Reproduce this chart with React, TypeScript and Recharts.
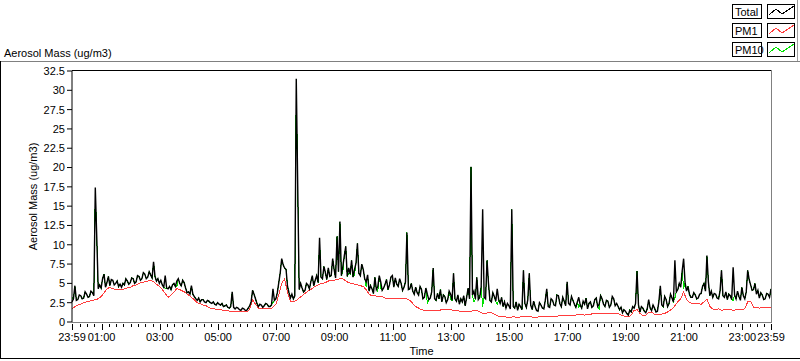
import React from "react";
import { LineChart, Line, XAxis, YAxis, Legend } from "recharts";

const FONT = '"Liberation Sans", Arial, sans-serif';

// Total / PM10 every 3 minutes, PM1 every 6 minutes, starting 23:59
const STEP_MIN = 3;
const PM1_STEP_MIN = 6;

// one row = one hour (20 samples)
const totalMass = [
  2.6, 3.0, 4.7, 2.8, 2.9, 3.5, 3.4, 3.0, 3.1, 3.9, 3.6, 3.2, 3.3, 4.0, 3.8, 3.4, 17.4, 11.0, 4.3, 4.8,
  4.4, 5.6, 6.2, 4.5, 5.1, 5.9, 4.7, 5.5, 5.4, 4.8, 5.0, 5.3, 4.6, 4.9, 4.5, 5.0, 4.8, 5.6, 5.3, 4.9,
  5.1, 5.7, 5.6, 5.0, 5.2, 6.0, 5.9, 5.4, 5.6, 6.4, 6.2, 5.6, 5.8, 6.5, 6.1, 5.7, 7.8, 5.9, 5.3, 5.6,
  5.0, 5.4, 4.8, 4.5, 6.0, 4.4, 4.3, 4.6, 4.2, 4.8, 5.0, 4.6, 5.3, 5.6, 5.0, 4.7, 5.4, 5.1, 4.4, 3.8,
  3.9, 3.6, 4.7, 3.6, 3.3, 3.0, 2.8, 3.1, 2.6, 2.9, 2.9, 2.6, 2.5, 2.8, 2.7, 2.5, 2.4, 2.6, 2.3, 2.2,
  2.5, 2.3, 2.2, 2.4, 2.0, 2.1, 2.2, 1.9, 1.8, 2.0, 3.9, 1.9, 1.7, 1.9, 1.8, 1.6, 1.5, 1.8, 1.7, 1.5,
  1.5, 1.8, 2.1, 2.6, 4.1, 3.6, 3.0, 2.4, 2.0, 2.3, 2.2, 1.9, 2.1, 2.4, 2.3, 2.0, 2.0, 2.2, 4.3, 2.8,
  3.0, 3.8, 5.1, 6.4, 8.2, 7.4, 7.0, 6.8, 4.6, 3.8, 3.1, 3.6, 3.0, 3.4, 31.5, 17.6, 4.2, 5.0, 4.4, 3.9,
  4.1, 5.0, 4.8, 4.3, 5.2, 6.0, 4.7, 5.4, 6.0, 5.1, 10.9, 5.8, 5.6, 7.2, 6.4, 5.5, 7.0, 5.9, 6.0, 8.2,
  6.8, 5.7, 11.1, 6.5, 13.0, 6.0, 7.2, 8.6, 9.8, 5.9, 7.0, 6.2, 8.0, 5.8, 6.8, 7.6, 10.2, 6.3, 6.0, 7.5,
  6.8, 5.6, 5.2, 6.1, 4.0, 4.7, 4.3, 3.7, 5.8, 4.2, 4.6, 6.0, 5.2, 4.1, 4.4, 4.9, 5.5, 4.2, 4.8, 5.8,
  6.0, 4.5, 5.7, 4.9, 4.6, 5.6, 5.0, 4.1, 4.5, 5.2, 11.6, 4.2, 4.3, 5.0, 4.0, 3.6, 4.5, 3.8, 3.5, 4.6,
  4.2, 3.0, 3.2, 4.4, 3.6, 2.9, 3.1, 3.9, 7.0, 3.0, 2.8, 3.7, 3.0, 4.2, 2.6, 3.5, 3.3, 2.5, 2.9, 4.0,
  3.6, 2.8, 6.3, 3.0, 2.7, 3.5, 2.3, 3.0, 2.6, 3.4, 2.1, 3.2, 4.4, 3.0, 20.1, 3.5, 4.0, 3.0, 5.8, 2.9,
  3.2, 4.6, 14.6, 3.2, 3.0, 8.0, 5.0, 2.8, 2.6, 3.8, 3.3, 2.7, 4.3, 2.9, 2.4, 3.2, 2.0, 2.6, 1.8, 2.4,
  2.1, 1.7, 14.6, 2.0, 1.8, 2.6, 1.5, 2.3, 2.0, 1.6, 6.7, 2.4, 1.9, 2.9, 6.3, 2.2, 1.6, 2.7, 2.0, 1.5,
  1.4, 2.5, 2.2, 1.8, 1.7, 2.8, 4.3, 2.0, 1.9, 3.0, 2.8, 2.2, 2.1, 3.5, 3.4, 2.4, 2.0, 3.2, 2.7, 2.1,
  5.2, 2.4, 2.2, 3.3, 2.8, 2.3, 1.9, 2.6, 3.2, 2.2, 1.8, 2.7, 2.3, 3.1, 1.7, 2.4, 2.6, 1.9, 2.1, 2.9,
  3.1, 2.0, 2.3, 3.4, 3.0, 2.3, 2.0, 2.8, 2.7, 1.9, 2.2, 3.3, 3.0, 2.1, 2.4, 2.0, 1.6, 1.9, 1.2, 1.6,
  1.4, 1.1, 0.9, 1.5, 1.3, 2.0, 1.8, 2.4, 6.6, 2.2, 1.3, 2.0, 1.8, 1.4, 1.2, 1.7, 2.9, 1.8, 1.5, 2.2,
  1.8, 1.3, 1.4, 2.6, 4.7, 2.2, 2.0, 3.3, 2.9, 2.0, 2.4, 3.6, 3.1, 2.6, 8.0, 3.9, 4.2, 5.0, 4.5, 6.6,
  8.2, 5.1, 4.0, 4.6, 3.6, 3.2, 3.2, 3.8, 3.5, 3.0, 3.1, 3.6, 3.7, 4.6, 5.0, 4.0, 8.6, 5.2, 3.4, 4.0,
  3.2, 3.7, 3.6, 3.1, 3.0, 4.0, 6.7, 3.4, 3.2, 3.9, 2.9, 3.6, 3.4, 2.9, 7.1, 3.5, 3.0, 4.0, 3.3, 2.8,
  4.5, 3.4, 3.0, 3.9, 6.7, 5.5, 4.8, 4.1, 4.2, 5.0, 3.6, 4.1, 3.1, 3.8, 3.5, 2.9, 3.0, 3.7, 3.6, 3.2,
  4.3,
];

const pm10Mass = [
  3.2, 3.0, 4.7, 2.8, 2.9, 3.5, 3.4, 3.0, 3.1, 3.9, 3.6, 3.2, 3.3, 4.0, 3.8, 3.4, 17.4, 11.0, 4.3, 4.8,
  4.4, 5.6, 6.2, 4.5, 5.1, 5.9, 4.7, 5.5, 5.4, 4.8, 5.0, 5.3, 4.6, 4.9, 4.5, 5.0, 4.8, 5.6, 5.3, 4.9,
  5.1, 5.7, 5.6, 5.0, 5.2, 6.0, 5.9, 5.4, 5.6, 6.4, 6.2, 5.6, 5.8, 6.5, 6.1, 5.7, 7.8, 5.9, 5.3, 5.6,
  5.0, 5.4, 4.8, 4.5, 4.4, 4.4, 4.3, 4.6, 4.2, 4.8, 5.0, 4.6, 4.6, 5.6, 5.0, 4.7, 5.4, 5.1, 4.4, 3.8,
  3.9, 3.6, 4.7, 3.6, 3.3, 3.0, 2.8, 3.1, 2.6, 2.9, 2.9, 2.6, 2.5, 2.8, 2.7, 2.5, 2.4, 2.6, 2.3, 2.2,
  2.5, 2.3, 2.2, 2.4, 2.0, 2.1, 2.2, 1.9, 1.8, 2.0, 3.9, 1.9, 1.7, 1.9, 1.8, 1.6, 1.5, 1.8, 1.7, 1.5,
  1.5, 1.8, 2.1, 2.6, 4.1, 3.6, 3.0, 2.4, 2.0, 2.3, 2.2, 1.9, 2.1, 2.4, 2.3, 2.0, 2.0, 2.2, 2.5, 2.8,
  3.0, 3.8, 5.1, 6.4, 8.2, 7.4, 7.0, 6.8, 4.6, 3.8, 3.4, 3.6, 3.0, 3.4, 31.5, 17.6, 4.2, 5.0, 4.4, 3.9,
  4.1, 5.0, 4.8, 4.3, 5.2, 6.0, 4.7, 5.4, 6.0, 5.1, 10.9, 5.8, 5.6, 7.2, 6.4, 5.5, 7.0, 5.9, 6.0, 8.2,
  6.8, 5.7, 11.1, 6.5, 13.0, 6.0, 6.5, 8.6, 9.8, 5.9, 6.3, 6.2, 8.0, 5.8, 6.0, 7.6, 10.2, 6.3, 6.0, 7.5,
  6.8, 5.6, 4.6, 6.1, 4.0, 4.7, 4.3, 3.7, 5.8, 4.2, 4.0, 6.0, 4.4, 4.1, 4.4, 4.9, 5.5, 4.2, 4.8, 5.8,
  6.0, 4.5, 5.7, 4.9, 4.6, 5.6, 5.0, 4.1, 4.5, 5.2, 11.6, 4.2, 4.3, 5.0, 4.0, 3.6, 4.5, 3.8, 3.5, 4.6,
  4.2, 3.0, 3.2, 4.4, 2.4, 2.9, 3.1, 3.9, 7.0, 3.0, 2.8, 3.7, 3.0, 4.2, 2.6, 3.5, 3.3, 2.5, 2.9, 4.0,
  2.9, 2.8, 6.3, 3.0, 2.7, 3.5, 2.3, 3.0, 2.6, 3.4, 2.1, 3.2, 4.4, 3.0, 20.1, 3.5, 2.6, 3.0, 5.8, 2.9,
  3.2, 4.6, 2.0, 3.2, 3.0, 8.0, 5.0, 2.8, 2.6, 3.8, 3.3, 2.7, 2.3, 2.9, 2.4, 3.2, 2.0, 2.6, 1.8, 2.4,
  2.1, 1.7, 14.6, 2.0, 1.8, 2.6, 1.5, 2.3, 2.0, 1.6, 6.7, 2.4, 1.9, 2.9, 6.3, 2.2, 1.6, 2.7, 2.0, 1.5,
  1.4, 2.5, 2.2, 1.8, 1.7, 2.8, 4.3, 2.0, 1.9, 3.0, 2.8, 2.2, 2.1, 3.5, 3.4, 2.4, 2.0, 3.2, 2.7, 2.1,
  5.2, 2.4, 2.2, 3.3, 2.8, 2.3, 1.9, 2.6, 1.9, 2.2, 1.8, 2.7, 2.3, 3.1, 1.7, 2.4, 2.6, 1.9, 2.1, 2.9,
  3.1, 2.0, 1.7, 3.4, 3.0, 2.3, 2.0, 2.8, 2.7, 1.9, 2.2, 3.3, 3.0, 2.1, 2.4, 2.0, 1.6, 1.9, 1.2, 1.6,
  1.4, 1.1, 0.9, 1.5, 1.3, 2.0, 1.8, 2.4, 6.6, 2.2, 1.3, 2.0, 1.8, 1.4, 1.2, 1.7, 2.9, 1.8, 1.5, 2.2,
  1.8, 1.3, 1.4, 2.6, 4.7, 2.2, 2.0, 3.3, 2.9, 2.0, 2.4, 3.6, 3.1, 2.6, 3.1, 3.9, 4.2, 5.0, 4.5, 6.6,
  4.3, 5.1, 4.0, 4.6, 3.6, 3.2, 3.2, 3.8, 3.5, 3.0, 3.1, 3.6, 3.7, 4.6, 5.0, 4.0, 8.6, 5.2, 3.4, 4.0,
  3.2, 3.7, 3.6, 3.1, 3.0, 4.0, 6.7, 3.4, 3.2, 3.9, 2.9, 3.6, 3.4, 2.9, 2.8, 3.5, 3.0, 4.0, 3.3, 2.8,
  4.5, 3.4, 3.0, 3.9, 6.7, 5.5, 4.8, 4.1, 4.2, 5.0, 3.6, 4.1, 3.1, 3.8, 3.5, 2.9, 3.0, 3.7, 3.6, 3.2,
  4.3,
];

// one row = one hour (10 samples)
const pm1Mass = [
  1.7, 2.0, 2.2, 2.3, 2.5, 2.6, 2.7, 2.8, 2.9, 3.0,
  3.3, 3.8, 4.3, 4.5, 4.3, 4.2, 4.2, 4.2, 4.3, 4.4,
  4.5, 4.7, 4.8, 5.0, 5.1, 5.2, 5.3, 5.4, 5.2, 4.9,
  4.6, 4.2, 3.7, 3.2, 3.5, 3.9, 4.3, 4.2, 4.0, 3.8,
  3.5, 3.2, 2.9, 2.5, 2.4, 2.2, 2.1, 1.9, 1.7, 1.7,
  1.6, 1.6, 1.5, 1.5, 1.4, 1.4, 1.3, 1.3, 1.3, 1.3,
  1.3, 1.6, 2.9, 2.3, 1.8, 1.7, 1.7, 1.7, 1.7, 1.9,
  2.3, 3.5, 5.0, 5.6, 3.8, 2.7, 2.6, 2.8, 3.1, 3.4,
  3.7, 4.0, 4.2, 4.5, 4.7, 4.9, 5.0, 5.1, 5.3, 5.4,
  5.4, 5.5, 5.6, 5.6, 5.3, 5.1, 5.0, 4.9, 4.8, 4.7,
  4.6, 4.2, 3.6, 3.4, 3.4, 3.3, 3.3, 3.2, 3.0, 3.0,
  3.0, 3.0, 3.0, 3.0, 3.0, 3.0, 2.8, 2.4, 2.0, 1.8,
  1.6, 1.5, 1.5, 1.5, 1.5, 1.5, 1.5, 1.6, 1.6, 1.6,
  1.6, 1.5, 1.5, 1.4, 1.4, 1.3, 1.3, 1.4, 1.5, 1.5,
  1.3, 1.1, 1.1, 1.2, 1.2, 1.0, 0.8, 0.7, 0.65, 0.65,
  0.6, 0.65, 0.65, 0.6, 0.65, 0.65, 0.7, 0.65, 0.65, 0.6,
  0.65, 0.7, 0.7, 0.65, 0.7, 0.7, 0.7, 0.8, 0.85, 0.85,
  0.85, 0.9, 0.85, 0.9, 0.95, 0.95, 0.9, 0.95, 1.0, 1.1,
  1.1, 1.05, 1.1, 1.1, 1.15, 1.1, 1.15, 1.15, 1.0, 0.85,
  0.7, 0.65, 0.9, 1.5, 1.6, 1.1, 0.85, 0.9, 1.2, 1.3,
  1.0, 1.0, 1.0, 1.05, 1.2, 1.4, 1.7, 2.1, 2.6, 3.0,
  3.9, 2.9, 2.5, 2.4, 2.4, 2.4, 2.3, 2.6, 3.0, 2.0,
  1.7, 1.6, 1.7, 1.5, 1.6, 1.6, 1.6, 1.5, 1.6, 1.6,
  1.6, 1.7, 2.6, 2.7, 1.9, 1.85, 1.8, 1.85, 1.85, 1.9,
  1.85,
];

// minutes after 23:59
const majorTicks = [0, 61, 181, 301, 421, 541, 661, 781, 901, 1021, 1141, 1261, 1381, 1440];
const majorLabels = [
  "23:59", "01:00", "03:00", "05:00", "07:00", "09:00", "11:00",
  "13:00", "15:00", "17:00", "19:00", "21:00", "23:00", "23:59",
];
const yTicks = [0, 2.5, 5, 7.5, 10, 12.5, 15, 17.5, 20, 22.5, 25, 27.5, 30, 32.5];

const seriesNames = ["Total", "PM1", "PM10"];
const seriesColors = ["#000000", "#ff3c3c", "#00e000"];

const chartData = totalMass.map((v, j) => {
  const t = j * STEP_MIN;
  return {
    t,
    total: v,
    pm10: pm10Mass[j],
    pm1: t % PM1_STEP_MIN === 0 ? pm1Mass[t / PM1_STEP_MIN] : null,
  };
});

const minorTicks: number[] = [];
for (let t = 1; t < 1440; t += 15) minorTicks.push(t);
const xTicks = Array.from(new Set([...majorTicks, ...minorTicks])).sort((a, b) => a - b);

const TimeTick = (props: any) => {
  const { x, y, payload } = props;
  const idx = majorTicks.indexOf(payload.value);
  const major = idx >= 0;
  const px = Math.round(x) + 0.5;
  return (
    <g>
      <line x1={px} x2={px} y1={y + 2} y2={y + (major ? 8 : 5)} stroke="#000" />
      {major && (
        <text x={x} y={y + 19} textAnchor="middle" fontSize={11} fontFamily={FONT} fill="#000">
          {majorLabels[idx]}
        </text>
      )}
    </g>
  );
};

const LegendBox = (props: any) => {
  const items = props.payload || [];
  return (
    <svg width={70} height={60} style={{ display: "block" }}>
      {seriesNames.map((name, i) => {
        const item = items.find((p: any) => p.value === name);
        const color = item ? item.color : seriesColors[i];
        const top = 4 + i * 19;
        return (
          <g key={name}>
            <rect x={2.5} y={top + 0.5} width={29} height={14} fill="#fff" stroke="#000" />
            <text x={5} y={top + 12} fontSize={11} fontFamily={FONT} fill="#000">
              {name}
            </text>
            <rect x={37.5} y={top + 0.5} width={27} height={14} fill="#fff" stroke="#000" />
            <polyline
              points={`39,${top + 11} 46,${top + 5} 52,${top + 10} 58,${top + 6} 64,${top + 2}`}
              fill="none"
              stroke={color}
              shapeRendering="crispEdges"
            />
          </g>
        );
      })}
    </svg>
  );
};

const App: React.FC = () => {
  return (
    <div style={{ position: "absolute", left: 0, top: 0, width: 800, height: 361, background: "#fff" }}>
      <LineChart
        width={800}
        height={361}
        data={chartData}
        margin={{ top: 71, right: 29, bottom: 0, left: 0 }}
      >
        <XAxis
          dataKey="t"
          type="number"
          domain={[0, 1440]}
          ticks={xTicks}
          interval={0}
          tick={<TimeTick />}
          tickSize={0}
          tickMargin={0}
          tickLine={false}
          axisLine={false}
          height={39}
          label={{ value: "Time", position: "insideBottom", offset: 6, fontSize: 11, fontFamily: FONT, fill: "#000" }}
        />
        <YAxis
          type="number"
          domain={[0, 32.5]}
          ticks={yTicks}
          interval={0}
          width={72}
          tickSize={5}
          tickMargin={2}
          axisLine={{ stroke: "#000" }}
          tickLine={{ stroke: "#000" }}
          tick={{ fontSize: 11, fontFamily: FONT, fill: "#000" }}
          label={{
            value: "Aerosol Mass (ug/m3)",
            angle: -90,
            position: "center",
            dx: -3,
            fontSize: 11,
            fontFamily: FONT,
            fill: "#000",
          }}
        />
        <Legend
          layout="horizontal"
          verticalAlign="middle"
          align="center"
          wrapperStyle={{ position: "absolute", top: 0, left: 730, width: 70, height: 60 }}
          content={<LegendBox />}
        />
        <Line
          type="linear"
          dataKey="pm10"
          name="PM10"
          stroke={seriesColors[2]}
          strokeWidth={1}
          dot={false}
          shapeRendering="crispEdges"
          isAnimationActive={false}
        />
        <Line
          type="linear"
          dataKey="pm1"
          name="PM1"
          stroke={seriesColors[1]}
          strokeWidth={1}
          dot={false}
          connectNulls
          shapeRendering="crispEdges"
          isAnimationActive={false}
        />
        <Line
          type="linear"
          dataKey="total"
          name="Total"
          stroke={seriesColors[0]}
          strokeWidth={1.4}
          dot={false}
          isAnimationActive={false}
        />
      </LineChart>
      <svg
        width={800}
        height={361}
        style={{ position: "absolute", left: 0, top: 0, pointerEvents: "none" }}
      >
        <text x={4} y={57} fontSize={11} fontFamily={FONT} fill="#000">
          Aerosol Mass (ug/m3)
        </text>
        <line x1={0} x2={800} y1={61.5} y2={61.5} stroke="#808080" />
        <line x1={0.5} x2={0.5} y1={61} y2={359} stroke="#000" />
        <line x1={0} x2={800} y1={358.5} y2={358.5} stroke="#000" />
        <line x1={797.5} x2={797.5} y1={0} y2={61} stroke="#a0a0a0" />
        <line x1={72} x2={772} y1={70.5} y2={70.5} stroke="#000" />
        <line x1={771.5} x2={771.5} y1={70} y2={322} stroke="#808080" />
        <line x1={72} x2={772} y1={322.5} y2={322.5} stroke="#808080" />
      </svg>
    </div>
  );
};

export default App;
